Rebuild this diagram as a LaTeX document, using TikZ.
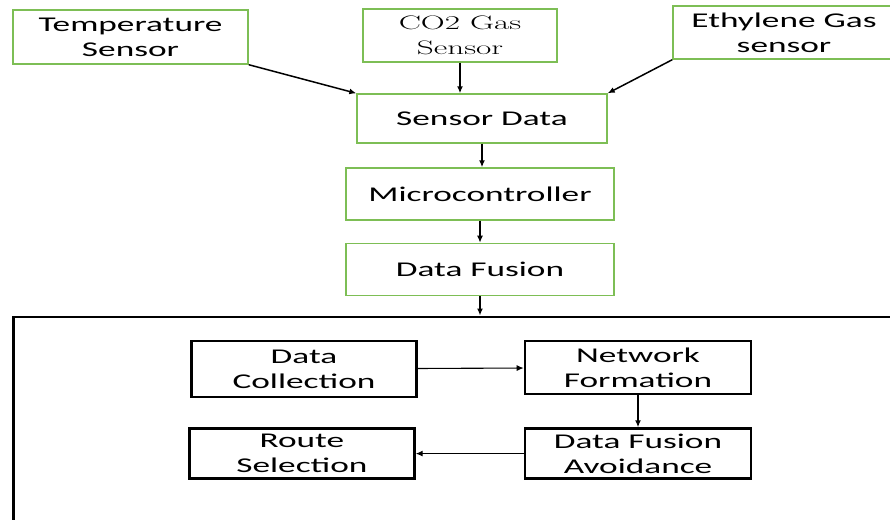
\documentclass[tikz,border=0pt]{standalone}
\usepackage{fontspec}
\usepackage{graphicx}
\setsansfont{Carlito}[FakeStretch=1.68]
\newcommand{\cotext}[1]{\scalebox{1.7}[1]{\rmfamily\fontsize{19.5}{25}\selectfont #1}}
\usepackage{tikz}
\usetikzlibrary {arrows.meta,
                 positioning}
\definecolor{boxgreen}{RGB}{125,190,85}
\tikzset{
        base/.style={align=center, rectangle, inner sep=0pt,
                     font=\sffamily\fontsize{21}{25}\selectfont},
        sensor/.style={base, draw=boxgreen, line width=1.4pt},
        proc/.style={base, draw=black, line width=2.6pt},
        block/.style={draw=black, line width=2.8pt, rectangle,
                      minimum width=900pt, minimum height=230pt},
        myarrow/.style={-{Latex[length=7pt, width=6pt]}, line width=1.5pt},
        thinarrow/.style={-{Latex[length=7pt, width=6pt]}, line width=1.1pt},
 }

\begin{document}
\begin{tikzpicture}[x=1pt, y=-1pt]
    \useasboundingbox (0,0) rectangle (890,519);

    % sensors
    \node[sensor, minimum width=235pt, minimum height=54pt] (temp) at (130.5,37)
        {Temperature\\Sensor};
    \node[sensor, minimum width=194pt, minimum height=53pt] (co2) at (460,35.5)
        {\cotext{CO2 Gas}\\\cotext{Sensor}};
    \node[sensor, minimum width=222pt, minimum height=53pt] (ethylene) at (784,32.5)
        {Ethylene Gas\\sensor};

    \node[sensor, minimum width=250pt, minimum height=49pt] (sdata) at (482,118.5)
        {Sensor Data};
    \node[sensor, minimum width=268pt, minimum height=52pt] (micro) at (480,194)
        {Microcontroller};
    \node[sensor, minimum width=268pt, minimum height=52pt, below = 22pt of micro]
        (fusion) {Data Fusion};

    % network part
    \node[block, anchor=north west] (network) at (12,315.5) {};

    \node[proc, minimum width=225pt, minimum height=56pt] (collect) at (304,369)
        {Data\\Collection};
    \node[proc, minimum width=226pt, minimum height=53pt] (netform) at (638,367.5)
        {Network\\Formation};
    \node[proc, minimum width=226pt, minimum height=50pt, below = 32pt of netform]
        (avoid) {Data Fusion\\Avoidance};
    \node[proc, minimum width=225pt, minimum height=50pt, left = 108pt of avoid]
        (route) {Route\\Selection};

    \draw[myarrow] (temp.south east) -- (sdata.north west);
    \draw[myarrow] (co2.south) -- (co2.south |- sdata.north);
    \draw[myarrow] (ethylene.south west) -- (sdata.north east);
    \draw[myarrow] (sdata.south) -- (sdata.south |- micro.north);
    \draw[myarrow] (micro) -- (fusion);
    \draw[myarrow] (fusion) -- (fusion |- network.north);

    \draw[thinarrow] (collect) -- (netform);
    \draw[myarrow] (netform) -- (avoid);
    \draw[thinarrow] (avoid) -- (route);

\end{tikzpicture}
\end{document}
